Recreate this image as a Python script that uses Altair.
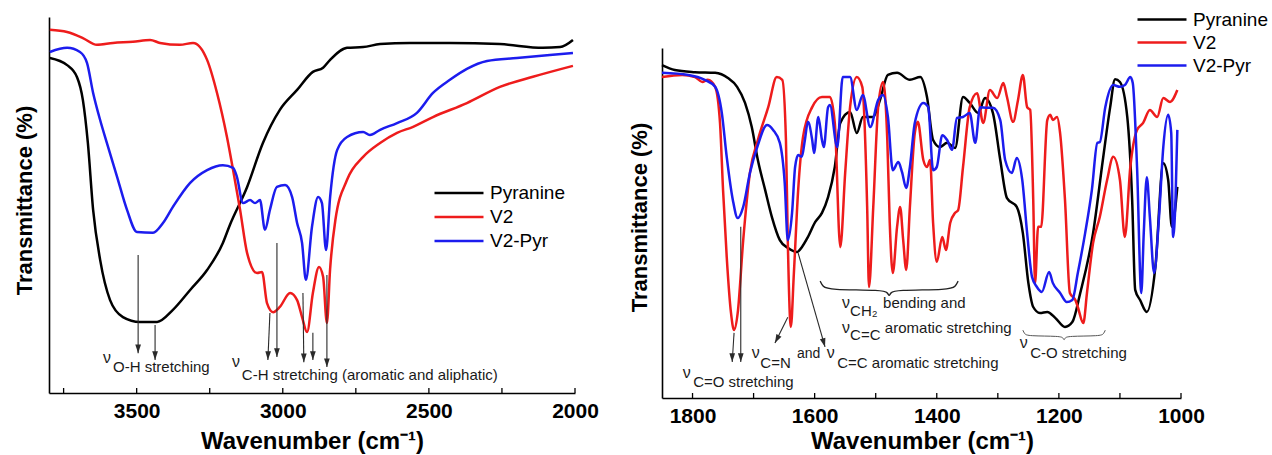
import altair as alt
import pandas as pd

FONT = "Liberation Sans"
W, H = 1272, 455

series = ["Pyranine", "V2", "V2-Pyr"]
colors = ["#000000", "#ee1c1c", "#1c1cee"]

# ---------------- Left panel (3800-2000 cm-1) ----------------
L_pyr_wn = [3797, 3738, 3704, 3684, 3667, 3649, 3625, 3591, 3547, 3489, 3430, 3376, 3317, 3259, 3205, 3181,
            3122, 3068, 3010, 2951, 2897, 2862, 2838, 2780, 2725, 2667, 2565, 2428, 2257, 2110, 2051, 2007]
L_pyr_T = [89.1, 87.2, 84.0, 77.9, 66.5, 48.7, 35.4, 24.7, 20.2, 18.9, 18.9, 22.1, 27.4, 32.7, 39.9, 44.7,
           54.8, 66.5, 75.3, 80.6, 85.4, 86.5, 88.6, 91.8, 92.0, 92.8, 93.1, 93.1, 92.8, 91.8, 92.0, 93.9]

L_v2_wn = [3797, 3738, 3684, 3636, 3581, 3513, 3454, 3420, 3352, 3307, 3259, 3225, 3191, 3170, 3146, 3122,
           3088, 3071, 3054, 3033, 3010, 2975, 2951, 2934, 2917, 2897, 2876, 2862, 2849, 2838, 2820, 2780,
           2725, 2667, 2609, 2554, 2486, 2370, 2257, 2144, 2007]
L_v2_T = [96.6, 96.0, 94.4, 92.6, 93.1, 93.4, 93.9, 93.1, 92.6, 93.1, 88.6, 79.8, 68.1, 59.3, 48.7, 37.2,
          31.9, 32.2, 23.9, 21.5, 22.9, 26.6, 24.7, 20.2, 16.2, 26.6, 33.5, 30.9, 18.6, 33.0, 46.0, 56.7,
          62.8, 66.5, 69.2, 70.8, 73.4, 77.1, 81.4, 84.1, 87.0]

L_vp_wn = [3797, 3738, 3694, 3670, 3649, 3625, 3602, 3567, 3533, 3499, 3444, 3410, 3376, 3317, 3259, 3205,
           3170, 3157, 3136, 3112, 3095, 3078, 3061, 3044, 3020, 2992, 2968, 2951, 2934, 2921, 2900, 2879,
           2866, 2852, 2838, 2814, 2780, 2725, 2702, 2667, 2609, 2541, 2486, 2428, 2370, 2301, 2199, 2086, 2007]
L_vp_T = [90.7, 91.8, 90.7, 87.8, 79.8, 72.6, 66.5, 57.5, 48.7, 42.8, 42.6, 45.2, 49.5, 55.9, 59.3, 60.6,
          59.9, 57.5, 50.5, 51.3, 50.5, 51.3, 43.4, 48.7, 54.8, 55.3, 52.1, 45.2, 39.9, 30.1, 44.2, 52.1,
          50.5, 38.0, 52.1, 64.6, 68.1, 69.4, 68.6, 70.0, 71.8, 74.5, 79.8, 83.3, 86.2, 88.3, 89.1, 89.9, 90.4]

# ---------------- Right panel (1850-1000 cm-1) ----------------
R_pyr_wn = [1850, 1829, 1796, 1763, 1742, 1727, 1714, 1703, 1693, 1681, 1670, 1657, 1644, 1629, 1621, 1611,
            1599, 1588, 1578, 1567, 1558, 1542, 1531, 1521, 1504, 1493, 1480, 1465, 1444, 1427, 1416, 1406,
            1395, 1383, 1370, 1357, 1346, 1332, 1321, 1308, 1296, 1285, 1269, 1259, 1250, 1242, 1231, 1219,
            1206, 1190, 1178, 1165, 1144, 1128, 1116, 1108, 1100, 1088, 1080, 1075, 1067, 1056, 1042, 1029,
            1021, 1015, 1006]
R_pyr_T = [95.1, 93.7, 93.1, 92.9, 91.4, 88.9, 84.3, 77.4, 68.0, 59.4, 51.7, 45.1, 42.9, 41.7, 43.1, 46.0,
           50.3, 52.9, 57.4, 66.0, 78.6, 81.7, 75.7, 80.3, 80.3, 85.1, 92.3, 92.9, 90.9, 91.7, 86.0, 73.7,
           71.7, 72.9, 71.4, 86.0, 84.3, 81.4, 85.7, 81.4, 68.0, 57.1, 54.6, 47.1, 32.9, 26.0, 24.3, 24.6,
           22.9, 20.3, 21.7, 30.0, 47.1, 68.0, 83.1, 91.1, 90.3, 80.3, 56.6, 30.9, 28.0, 24.6, 37.4, 67.1,
           62.3, 48.9, 60.3]

R_v2_wn = [1850, 1817, 1796, 1784, 1775, 1763, 1755, 1750, 1744, 1737, 1732, 1726, 1717, 1706, 1693, 1676,
           1662, 1653, 1647, 1644, 1639, 1634, 1627, 1619, 1604, 1588, 1575, 1567, 1558, 1550, 1542, 1531,
           1522, 1514, 1511, 1504, 1496, 1488, 1481, 1477, 1472, 1465, 1460, 1455, 1450, 1444, 1436, 1431,
           1422, 1416, 1411, 1406, 1400, 1391, 1385, 1378, 1370, 1365, 1357, 1346, 1334, 1324, 1313, 1301,
           1291, 1285, 1275, 1267, 1259, 1252, 1247, 1242, 1239, 1234, 1229, 1219, 1214, 1210, 1203, 1198,
           1190, 1182, 1173, 1169, 1160, 1154, 1144, 1133, 1121, 1111, 1100, 1092, 1083, 1072, 1062, 1051,
           1039, 1029, 1018, 1006]
R_v2_T = [91.7, 92.3, 91.7, 90.3, 90.9, 88.9, 78.6, 59.4, 40.3, 24.3, 19.4, 24.3, 45.1, 64.3, 73.7, 83.1,
          91.7, 90.9, 73.7, 45.1, 20.3, 35.7, 59.4, 74.6, 83.1, 86.0, 86.0, 78.6, 43.1, 64.3, 83.1, 91.7,
          88.9, 54.6, 31.7, 54.6, 83.1, 90.3, 73.7, 50.0, 35.7, 48.9, 54.6, 45.1, 36.6, 54.6, 75.7, 78.9,
          68.0, 66.0, 68.0, 50.0, 38.9, 46.0, 42.3, 50.0, 52.9, 53.7, 66.0, 83.1, 87.1, 78.6, 88.0, 85.7,
          90.0, 86.0, 78.9, 85.1, 92.3, 83.1, 82.3, 56.6, 32.9, 48.9, 48.9, 79.4, 80.9, 79.4, 80.3, 75.7,
          56.6, 30.0, 28.0, 26.0, 21.4, 30.0, 44.3, 51.7, 62.3, 68.9, 62.3, 46.0, 66.0, 76.6, 78.6, 82.3,
          80.3, 85.7, 84.6, 88.0]

R_vp_wn = [1850, 1807, 1780, 1763, 1752, 1744, 1734, 1726, 1717, 1706, 1694, 1678, 1668, 1657, 1649, 1644,
           1637, 1632, 1627, 1621, 1616, 1611, 1604, 1601, 1594, 1588, 1585, 1578, 1575, 1563, 1554, 1542,
           1531, 1521, 1509, 1496, 1488, 1480, 1472, 1463, 1457, 1450, 1444, 1436, 1422, 1414, 1406, 1400,
           1391, 1383, 1375, 1367, 1357, 1346, 1337, 1329, 1318, 1308, 1296, 1288, 1277, 1269, 1260, 1252,
           1244, 1236, 1228, 1216, 1210, 1198, 1187, 1178, 1169, 1157, 1146, 1137, 1133, 1124, 1111, 1100,
           1092, 1083, 1079, 1072, 1065, 1061, 1056, 1051, 1044, 1036, 1029, 1021, 1016, 1013, 1009, 1006]
R_vp_T = [92.9, 92.3, 90.9, 88.9, 81.4, 68.9, 56.6, 51.4, 54.6, 64.3, 71.7, 78.0, 76.6, 72.9, 61.4, 45.1,
          52.9, 66.0, 69.4, 68.9, 73.7, 78.9, 73.7, 70.0, 80.3, 73.7, 71.7, 83.1, 83.7, 71.7, 91.7, 91.7,
          82.3, 86.6, 77.4, 85.1, 86.6, 80.3, 65.1, 67.4, 64.6, 60.0, 66.0, 78.6, 84.3, 83.1, 65.1, 66.0,
          75.1, 73.7, 70.9, 80.0, 80.3, 81.4, 72.9, 83.1, 82.9, 82.9, 79.4, 68.0, 64.3, 68.6, 62.3, 47.1,
          34.6, 31.7, 30.3, 36.0, 32.9, 30.0, 27.4, 28.0, 35.7, 47.1, 59.4, 72.9, 73.1, 83.1, 89.4, 88.9,
          89.4, 91.7, 90.0, 66.0, 30.0, 47.1, 63.1, 51.7, 35.7, 51.7, 71.7, 80.9, 75.7, 46.0, 56.6, 76.6]

# axis ticks / labels
L_ticks = [3750, 3500, 3250, 3000, 2750, 2500, 2250, 2000]
L_labels = [3500, 3000, 2500, 2000]
R_ticks = [1800, 1700, 1600, 1500, 1400, 1300, 1200, 1100, 1000]
R_labels = [1800, 1600, 1400, 1200, 1000]

# annotations: arrows (x1, y1, x2, y2, head angle)
L_arrows = [(3495, 36.7, 3495, 10.6, 0), (3437, 18.1, 3437, 8.8, 0), (3044, 21.3, 3051, 8.8, 2),
            (3020, 39.9, 3020, 9.6, 0), (2931, 26.6, 2928, 8.2, 0), (2897, 16.0, 2897, 8.8, 0),
            (2849, 31.4, 2849, 6.9, 0)]
R_arrows = [(1732, 18.6, 1735, 10.3, 0), (1721, 48.9, 1721, 10.3, 0),
            (1644, 23.1, 1665, 15.7, 27), (1627, 41.4, 1583, 14.6, 344)]

L_texts = [("ν", 3615, 8.0, 16), ("O-H stretching", 3581, 5.6, 15),
           ("ν", 3174, 6.9, 16), ("C-H stretching (aromatic and aliphatic)", 3140, 3.5, 15)]
R_texts = [("ν", 1816, 5.7, 16), ("C=O stretching", 1799, 3.1, 15),
           ("ν", 1703, 11.4, 16), ("C=N", 1689, 8.6, 15), ("and", 1629, 11.4, 14),
           ("ν", 1580, 11.4, 16), ("C=C aromatic stretching", 1563, 8.6, 15),
           ("ν", 1555, 25.7, 16), ("CH₂", 1542, 23.4, 15), ("bending and", 1488, 25.7, 15),
           ("ν", 1555, 18.6, 16), ("C=C", 1542, 16.6, 15), ("aromatic stretching", 1485, 18.6, 15),
           ("ν", 1264, 14.3, 16), ("C-O stretching", 1247, 11.4, 15)]

# braces: (name, x_start, x_end, y_top, y_mid, y_tip, colour, width)
R_braces = [("ch2", 1591, 1365, 33.4, 30.9, 29.0, "#222222", 1.4),
            ("co", 1259, 1124, 19.4, 17.7, 16.4, "#555555", 1.0)]

# ---------------- helpers ----------------
SC = {
    "L": dict(x=alt.Scale(domain=[2000, 3800], range=[575, 49], nice=False, zero=False),
              y=alt.Scale(domain=[0, 100], range=[393, 17], nice=False, zero=False), base=393),
    "R": dict(x=alt.Scale(domain=[1000, 1850], range=[1181, 662], nice=False, zero=False),
              y=alt.Scale(domain=[0, 100], range=[398, 48], nice=False, zero=False), base=398),
}


def long_df(parts):
    rows = []
    for name, wn, t in parts:
        assert len(wn) == len(t), name
        rows += [{"series": name, "wn": w, "T": v} for w, v in zip(wn, t)]
    return pd.DataFrame(rows)


def line_layer(p, df, x_axis, y_axis, legend):
    return alt.Chart(df).mark_line(strokeWidth=2.5, interpolate="monotone", strokeJoin="round").encode(
        x=alt.X("wn:Q", scale=SC[p]["x"], axis=x_axis),
        y=alt.Y("T:Q", scale=SC[p]["y"], axis=y_axis),
        color=alt.Color("series:N", scale=alt.Scale(domain=series, range=colors), legend=legend),
        order=alt.Order("wn:Q", sort="descending"),
    )


def x_axis(values, offset, tx, ty):
    return alt.Axis(values=values, format="d", orient="bottom", offset=offset, grid=False, ticks=False,
                    domainColor="black", domainWidth=1.6, labelFont=FONT, labelFontSize=21,
                    labelFontWeight="bold", labelColor="black", labelPadding=7, labelFlush=False,
                    labelOverlap=False, title="Wavenumber (cm⁻¹)", titleFont=FONT, titleFontSize=24,
                    titleFontWeight="bold", titleColor="black", titleX=tx, titleY=ty, titleAlign="center",
                    titleBaseline="alphabetic")


def y_axis(offset, tx, ty):
    return alt.Axis(orient="left", offset=offset, grid=False, ticks=False, labels=False,
                    domainColor="black", domainWidth=1.6, title="Transmittance (%)", titleFont=FONT,
                    titleFontSize=22, titleFontWeight="bold", titleColor="black", titleX=tx, titleY=ty,
                    titleAngle=270, titleAlign="center", titleBaseline="alphabetic")


def legend(lx, ly, clip):
    return alt.Legend(title=None, orient="none", legendX=lx, legendY=ly, symbolType="stroke",
                      symbolSize=2400, symbolStrokeWidth=2.5, labelFont=FONT, labelFontSize=19,
                      labelColor="black", labelOffset=5, clipHeight=clip, rowPadding=0, padding=0)


def tick_layer(p, ticks):
    base = SC[p]["base"]
    return alt.Chart(pd.DataFrame({"t": ticks})).mark_rule(color="black", strokeWidth=1.3).encode(
        x=alt.X("t:Q", scale=SC[p]["x"], axis=None),
        y=alt.value(base), y2=alt.value(base - 5))


def arrow_layers(p, arrows):
    df = pd.DataFrame(arrows, columns=["x1", "y1", "x2", "y2", "ang"])
    shaft = alt.Chart(df).mark_rule(color="#2a2a2a", strokeWidth=1.1).encode(
        x=alt.X("x1:Q", scale=SC[p]["x"], axis=None), x2="x2:Q",
        y=alt.Y("y1:Q", scale=SC[p]["y"], axis=None), y2="y2:Q")
    head = alt.Chart(df).mark_point(shape="M0,0L-0.33,-1L0.33,-1Z", filled=True, size=300,
                                    color="#2a2a2a", opacity=1, strokeWidth=0).encode(
        x=alt.X("x2:Q", scale=SC[p]["x"], axis=None),
        y=alt.Y("y2:Q", scale=SC[p]["y"], axis=None),
        angle=alt.Angle("ang:Q", scale=None))
    return [shaft, head]


def text_layer(p, texts):
    df = pd.DataFrame(texts, columns=["txt", "x", "y", "fs"])
    return alt.Chart(df).mark_text(align="left", baseline="alphabetic", font=FONT, color="#1a1a1a").encode(
        x=alt.X("x:Q", scale=SC[p]["x"], axis=None),
        y=alt.Y("y:Q", scale=SC[p]["y"], axis=None),
        text="txt:N", size=alt.Size("fs:Q", scale=None))


def brace_layers(p, braces):
    out = []
    fr = [0, 0.02, 0.06, 0.46, 0.49, 0.5, 0.51, 0.54, 0.94, 0.98, 1.0]
    for name, xa, xb, yt, ym, yp, col, sw in braces:
        ys = [yt, ym + (yt - ym) * 0.35, ym, ym, ym - (ym - yp) * 0.45, yp,
              ym - (ym - yp) * 0.45, ym, ym, ym + (yt - ym) * 0.35, yt]
        df = pd.DataFrame({"x": [xa + f * (xb - xa) for f in fr], "y": ys, "k": list(range(len(fr)))})
        out.append(alt.Chart(df).mark_line(color=col, strokeWidth=sw, interpolate="basis").encode(
            x=alt.X("x:Q", scale=SC[p]["x"], axis=None),
            y=alt.Y("y:Q", scale=SC[p]["y"], axis=None),
            order="k:Q"))
    return out


left_df = long_df([("Pyranine", L_pyr_wn, L_pyr_T), ("V2", L_v2_wn, L_v2_T), ("V2-Pyr", L_vp_wn, L_vp_T)])
right_df = long_df([("Pyranine", R_pyr_wn, R_pyr_T), ("V2", R_v2_wn, R_v2_T), ("V2-Pyr", R_vp_wn, R_vp_T)])

layers = [
    line_layer("L", left_df, x_axis(L_labels, -(H - 393), 312, 55), y_axis(-49, -18, 200),
               legend(433, 181, 24)),
    tick_layer("L", L_ticks),
    *arrow_layers("L", L_arrows),
    text_layer("L", L_texts),
    line_layer("R", right_df, x_axis(R_labels, -(H - 398), 922, 50), y_axis(-662, -16, 217),
               legend(1136, 8, 23)),
    tick_layer("R", R_ticks),
    *arrow_layers("R", R_arrows),
    text_layer("R", R_texts),
    *brace_layers("R", R_braces),
]

chart = alt.layer(*layers).resolve_scale(
    x="independent", y="independent", color="independent"
).properties(width=W, height=H, autosize="none", padding=0, background="white").configure_view(stroke=None)

chart.save("out.html", embed_options={"renderer": "svg", "actions": False})
